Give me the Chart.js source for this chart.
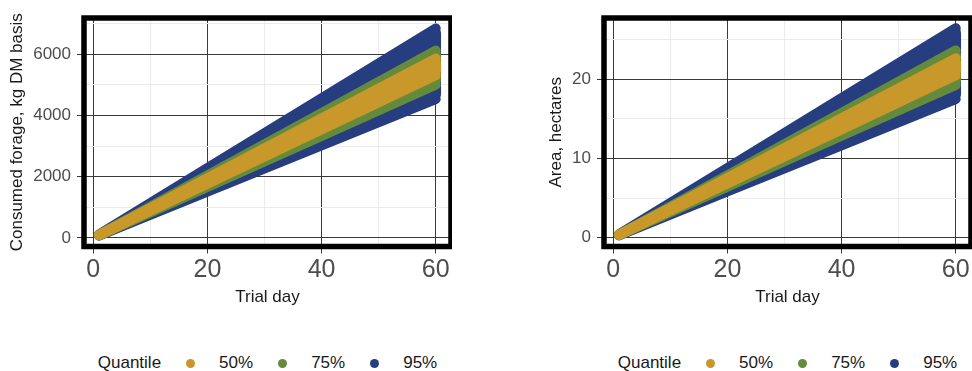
<!DOCTYPE html>
<html>
<head>
<meta charset="utf-8">
<script src="https://cdn.jsdelivr.net/npm/chart.js@4/dist/chart.umd.min.js"></script>
<style>
  html, body { margin: 0; padding: 0; background: #fff; }
  body { width: 972px; height: 371px; position: relative; overflow: hidden; font-family: 'Liberation Sans', Arial, sans-serif; }
  .panel { position: absolute; top: 0; width: 452px; height: 320px; }
  .legend { position: absolute; top: 352px; height: 22px; display: flex; align-items: center; justify-content: center; gap: 24.5px; font-size: 17px; color: #1a1a1a; line-height: 22px; }
  .dot { width: 9px; height: 9px; border-radius: 50%; display: inline-block; }
</style>
</head>
<body>
<div class="panel" style="left:0"><canvas id="chart-forage" width="452" height="320"></canvas></div>
<div class="panel" style="left:520px"><canvas id="chart-area" width="452" height="320"></canvas></div>
<div class="legend" id="legend-forage" style="left:84px;width:367px"></div>
<div class="legend" id="legend-area" style="left:604px;width:367px"></div>
<script>
// ── Data ──────────────────────────────────────────────────────────────────────

const QUANTILES = ['50%', '75%', '95%'];
const Q_COLORS = ['#C9982B', '#648A3C', '#263D80'];
const DAYS = [1, 20, 40, 60];

// Consumed forage, kg DM basis
const forage50Lo = [88, 1770, 3540, 5310];
const forage50Hi = [98, 1952, 3903, 5855];
const forage75Lo = [83, 1667, 3333, 5000];
const forage75Hi = [102, 2038, 4077, 6115];
const forage95Lo = [75, 1510, 3020, 4530];
const forage95Hi = [114, 2280, 4560, 6840];

// Area, hectares
const area50Lo = [0.34, 6.84, 13.68, 20.5];
const area50Hi = [0.38, 7.55, 15.09, 22.65];
const area75Lo = [0.32, 6.44, 12.88, 19.3];
const area75Hi = [0.39, 7.88, 15.76, 23.65];
const area95Lo = [0.29, 5.84, 11.67, 17.5];
const area95Hi = [0.44, 8.81, 17.63, 26.45];

// Axis breaks (major get labels, minor only light grid)
const X_MAJOR = [0, 20, 40, 60];
const X_MINOR = [10, 30, 50];
const FORAGE_MAJOR = [0, 2000, 4000, 6000];
const FORAGE_MINOR = [1000, 3000, 5000, 7000];
const AREA_MAJOR = [0, 10, 20];
const AREA_MINOR = [5, 15, 25];

// ── Helpers ───────────────────────────────────────────────────────────────────

const FONT = "'Liberation Sans', Arial, sans-serif";
const MAJOR = '#3a3a3a';
const MINOR = '#ebebeb';
const NONE = 'rgba(0,0,0,0)';
const R = 5;

const isMajor = (c, list) => !!(c.tick && list.includes(c.tick.value));
const setTicks = (major, minor) => s => {
  s.ticks = [...major, ...minor].sort((a, b) => a - b).map(v => ({ value: v }));
};

function bandDatasets(lo, hi, color) {
  return [
    {
      type: 'line',
      data: DAYS.map((d, i) => ({ x: d, y: hi[i] })),
      borderColor: color,
      backgroundColor: color,
      borderWidth: R * 2,
      borderCapStyle: 'round',
      borderJoinStyle: 'round',
      pointRadius: 0,
      tension: 0,
      fill: '+1',
    },
    {
      type: 'line',
      data: DAYS.map((d, i) => ({ x: d, y: lo[i] })),
      borderColor: color,
      borderWidth: R * 2,
      borderCapStyle: 'round',
      borderJoinStyle: 'round',
      pointRadius: 0,
      tension: 0,
      fill: false,
    },
    {
      type: 'bar',
      data: DAYS.map((d, i) => ({ x: d, y: [lo[i], hi[i]] })),
      backgroundColor: color,
      barThickness: R * 2,
      borderRadius: R,
      borderSkipped: false,
      grouped: false,
    },
  ];
}

// Thick ggplot-style panel border drawn over the data
const panelBorder = {
  id: 'panelBorder',
  afterDatasetsDraw(chart) {
    const { ctx, chartArea: a } = chart;
    ctx.save();
    ctx.strokeStyle = '#000';
    ctx.lineWidth = 5.5;
    ctx.strokeRect(a.left, a.top, a.right - a.left, a.bottom - a.top);
    ctx.restore();
  },
};

function makeChart(id, bands, yOpts) {
  const datasets = [];
  bands.forEach(([lo, hi], q) => datasets.push(...bandDatasets(lo, hi, Q_COLORS[q])));

  return new Chart(document.getElementById(id), {
    type: 'line',
    data: { datasets },
    plugins: [panelBorder],
    options: {
      responsive: false,
      animation: false,
      layout: { padding: { top: 18, right: 1, bottom: 9.5, left: 0 } },
      plugins: { legend: { display: false }, tooltip: { enabled: false } },
      scales: {
        x: {
          type: 'linear',
          min: -1.63,
          max: 62.68,
          offset: false,
          afterBuildTicks: setTicks(X_MAJOR, X_MINOR),
          afterFit: s => { s.height = 64; },
          border: { display: false },
          grid: {
            offset: false,
            color: c => (isMajor(c, X_MAJOR) ? MAJOR : MINOR),
            tickColor: c => (isMajor(c, X_MAJOR) ? MAJOR : NONE),
            tickLength: 7,
            lineWidth: 1,
          },
          ticks: {
            autoSkip: false,
            maxRotation: 0,
            padding: 2,
            color: '#4d4d4d',
            font: { size: 25, family: FONT },
            callback: v => (X_MAJOR.includes(v) ? String(v) : ''),
          },
          title: {
            display: true,
            text: 'Trial day',
            color: '#1a1a1a',
            font: { size: 17, family: FONT },
            padding: { top: 0, bottom: 3 },
          },
        },
        y: {
          type: 'linear',
          min: yOpts.min,
          max: yOpts.max,
          afterBuildTicks: setTicks(yOpts.major, yOpts.minor),
          afterFit: s => { s.width = 84; },
          border: { display: false },
          grid: {
            offset: false,
            color: c => (isMajor(c, yOpts.major) ? MAJOR : MINOR),
            tickColor: c => (isMajor(c, yOpts.major) ? MAJOR : NONE),
            tickLength: 7,
            lineWidth: 1,
          },
          ticks: {
            autoSkip: false,
            padding: 6,
            color: '#4d4d4d',
            font: { size: 17, family: FONT },
            callback: v => (yOpts.major.includes(v) ? String(v) : ''),
          },
          title: {
            display: true,
            text: yOpts.title,
            color: '#1a1a1a',
            font: { size: 17, family: FONT },
            padding: { top: yOpts.titlePad, bottom: 0 },
          },
        },
      },
    },
  });
}

// ── Legends ───────────────────────────────────────────────────────────────────

function renderLegend(id) {
  const el = document.getElementById(id);
  el.innerHTML = '<span>Quantile</span>' + QUANTILES.map((q, i) =>
    `<span class="dot" style="background:${Q_COLORS[i]}"></span><span>${q}</span>`
  ).join('');
}
renderLegend('legend-forage');
renderLegend('legend-area');

// 50% is listed first so it is drawn on top
makeChart('chart-forage',
  [[forage50Lo, forage50Hi], [forage75Lo, forage75Hi], [forage95Lo, forage95Hi]],
  { min: -280, max: 7180, major: FORAGE_MAJOR, minor: FORAGE_MINOR, title: 'Consumed forage, kg DM basis', titlePad: 7 });

makeChart('chart-area',
  [[area50Lo, area50Hi], [area75Lo, area75Hi], [area95Lo, area95Hi]],
  { min: -1.11, max: 27.74, major: AREA_MAJOR, minor: AREA_MINOR, title: 'Area, hectares', titlePad: 26 });
</script>
</body>
</html>
